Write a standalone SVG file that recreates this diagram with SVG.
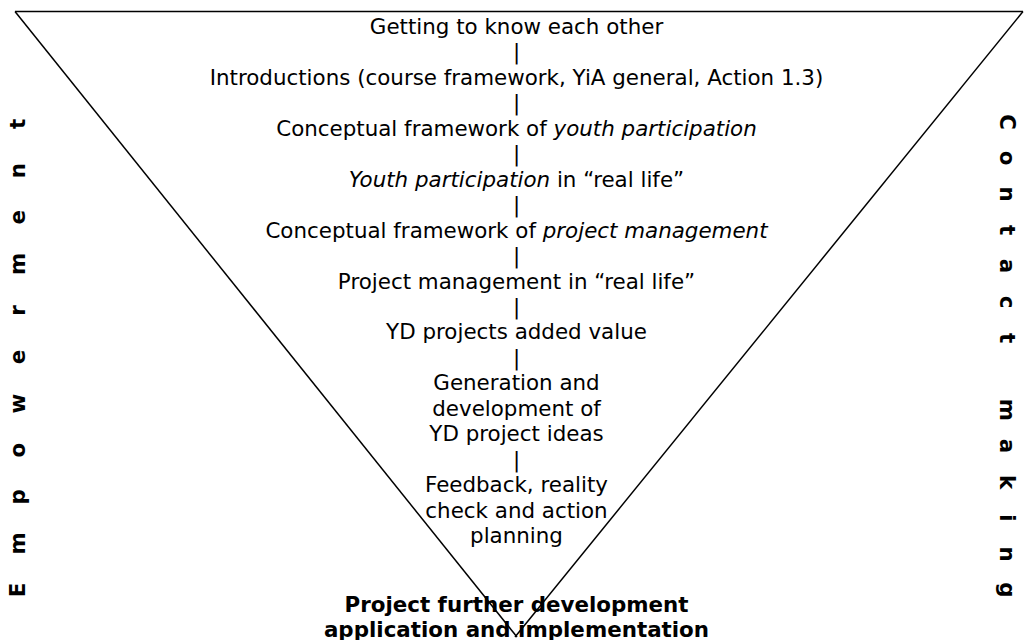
<svg xmlns="http://www.w3.org/2000/svg" width="1029" height="640" viewBox="0 0 1029 640">
<style>
.t{font-family:"DejaVu Sans","Verdana",sans-serif;font-size:21.4px;fill:#000;text-anchor:middle}
.b{font-weight:bold}
.i{font-style:italic}
.edge{fill:none;stroke:#000;stroke-width:1.5}
</style>
<rect width="1029" height="640" fill="#fff"/>
<g id="connectors">
<line class="edge" x1="15" y1="11.5" x2="1023" y2="11.5"/>
<line class="edge" x1="15" y1="11.5" x2="517" y2="637"/>
<line class="edge" x1="1023" y1="11.5" x2="515" y2="637"/>
</g>
<g id="steps">
<text class="t" x="516.5" y="34">Getting to know each other</text>
<text class="t" x="516.5" y="59.4">|</text>
<text class="t" x="516.5" y="84.9">Introductions (course framework, YiA general, Action 1.3)</text>
<text class="t" x="516.5" y="110.3">|</text>
<text class="t" x="516.5" y="135.8">Conceptual framework of <tspan class="i">youth participation</tspan></text>
<text class="t" x="516.5" y="161.2">|</text>
<text class="t" x="516.5" y="186.7"><tspan class="i">Youth participation</tspan> in “real life”</text>
<text class="t" x="516.5" y="212.1">|</text>
<text class="t" x="516.5" y="237.6">Conceptual framework of <tspan class="i">project management</tspan></text>
<text class="t" x="516.5" y="263">|</text>
<text class="t" x="516.5" y="288.5">Project management in “real life”</text>
<text class="t" x="516.5" y="313.9">|</text>
<text class="t" x="516.5" y="339.4">YD projects added value</text>
<text class="t" x="516.5" y="364.8">|</text>
<text class="t" x="516.5" y="390.3">Generation and</text>
<text class="t" x="516.5" y="415.7">development of</text>
<text class="t" x="516.5" y="441.2">YD project ideas</text>
<text class="t" x="516.5" y="466.6">|</text>
<text class="t" x="516.5" y="492.1">Feedback, reality</text>
<text class="t" x="516.5" y="517.5">check and action</text>
<text class="t" x="516.5" y="543">planning</text>
</g>
<g id="outcome">
<text class="t b" x="516.5" y="612">Project further development</text>
<text class="t b" x="516.5" y="637">application and implementation</text>
</g>
<g id="empowerment">
<text class="t b" transform="rotate(-90)" y="25" x="-590 -543.4 -496.8 -450.2 -403.6 -357 -310.4 -263.8 -217.2 -170.6 -124">Empowerment</text>
</g>
<g id="contact-making">
<text class="t b" transform="rotate(90)" y="-1000" x="122 158 194 230 266 302 338 374 410 446 482 518 554 590">Contact making</text>
</g>
</svg>
